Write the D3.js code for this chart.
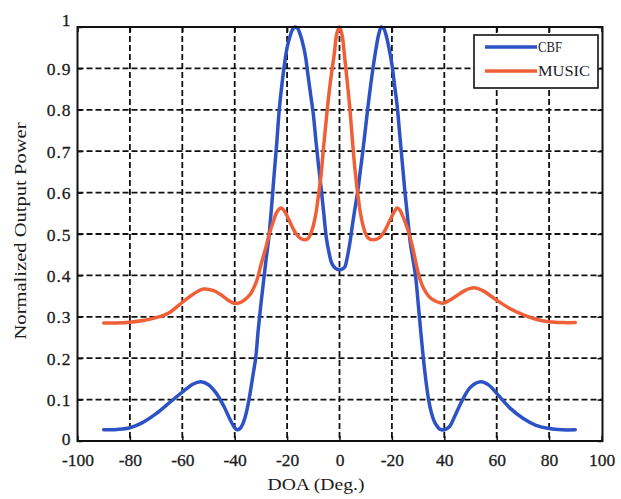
<!DOCTYPE html>
<html>
<head>
<meta charset="utf-8">
<script src="https://cdn.jsdelivr.net/npm/d3@7/dist/d3.min.js"></script>
<style>
  html, body { margin: 0; padding: 0; background: #fff; }
  svg { display: block; }
  text { font-family: "Liberation Serif", "DejaVu Serif", serif; fill: #1c1c1c; }
</style>
</head>
<body>
<svg id="chart" width="621" height="499"></svg>
<script>
// ---- data ----
const cbfDoa = [-90,-85,-80,-75,-70,-65,-60,-56,-53,-50,-47,-44,-42,-40,-39,-38,-37,-36,-35,-34,-33,-32,-31,-30,-29,-28,-27,-26,-25,-24,-23,-22,-21,-20,-19,-18,-17,-16,-15,-14,-13,-12,-11,-10,-9,-8,-7,-6,-5,-4,-3,-2,-1,0,
  1,2,3,4,5,6,7,8,9,10,11,12,13,14,15,16,17,18,19,20,21,22,23,24,25,26,27,28,29,30,31,32,33,34,35,36,37,38,39,40,42,44,47,50,54,57,60,65,70,75,80,85,90];
const cbfPower = [0.027,0.028,0.032,0.045,0.066,0.092,0.118,0.137,0.143,0.136,0.115,0.082,0.055,0.032,0.027,0.03,0.04,0.058,0.085,0.12,0.16,0.2,0.27,0.33,0.385,0.44,0.49,0.56,0.64,0.715,0.8,0.86,0.91,0.95,0.975,0.993,1.0,0.997,0.982,0.96,0.93,0.882,0.836,0.79,0.725,0.665,0.61,0.55,0.49,0.455,0.43,0.42,0.415,0.414,
  0.415,0.42,0.445,0.48,0.525,0.565,0.605,0.655,0.705,0.76,0.815,0.865,0.91,0.95,0.983,1.0,0.995,0.975,0.945,0.91,0.86,0.81,0.74,0.67,0.6,0.54,0.48,0.44,0.4,0.335,0.265,0.2,0.145,0.1,0.07,0.05,0.038,0.03,0.027,0.027,0.035,0.06,0.1,0.13,0.143,0.135,0.115,0.08,0.055,0.038,0.03,0.027,0.027];

const musicDoa = [-90,-85,-80,-75,-70,-65,-60,-55,-52,-48,-45,-42,-40,-38,-36,-34,-32,-31,-30,-28,-26.8,-25,-24,-22.3,-21,-19,-17,-15,-13,-12,-11,-10,-9,-8,-7,-6,-5,-4,-3,-2,-1,0,
  1,2,3,4,5,6,7,8,9,10,11,12.5,15,17,19,21,22,23,24,25,26.6,28,30.3,32,34,36,39.4,42,45,48,51.4,55,60,65,70,75,80,85,90];
const musicPower = [0.285,0.285,0.287,0.291,0.298,0.31,0.335,0.358,0.367,0.363,0.352,0.338,0.332,0.334,0.342,0.355,0.38,0.4,0.425,0.47,0.5,0.535,0.552,0.563,0.555,0.53,0.505,0.49,0.486,0.489,0.5,0.52,0.55,0.595,0.645,0.715,0.78,0.84,0.89,0.935,0.985,1.0,
  0.98,0.925,0.865,0.8,0.72,0.65,0.595,0.55,0.52,0.5,0.49,0.486,0.49,0.505,0.53,0.555,0.563,0.558,0.545,0.53,0.5,0.465,0.4,0.37,0.35,0.34,0.333,0.34,0.352,0.364,0.37,0.362,0.34,0.32,0.305,0.294,0.288,0.286,0.286];

const xTickValues = [-100,-80,-60,-40,-20,0,20,40,60,80,100];
const xTickLabels = ["-100","-80","-60","-40","-20","0","-20","40","60","80","100"];
const yTickValues = [0,0.1,0.2,0.3,0.4,0.5,0.6,0.7,0.8,0.9,1];
const yTickLabels = ["0","0.1","0.2","0.3","0.4","0.5","0.6","0.7","0.8","0.9","1"];
const seriesNames = ["CBF","MUSIC"];
const seriesColors = ["#2c52c6","#ef6039"];

// ---- drawing ----
const svg = d3.select("#chart");
const L = 77.5, R = 601.5, T = 27, B = 441;
const x = d3.scaleLinear().domain([-100,100]).range([L,R]);
const y = d3.scaleLinear().domain([0,1]).range([B,T]);

// grid
const grid = svg.append("g").attr("stroke","#111").attr("stroke-width",1.8).attr("stroke-dasharray","6,3");
grid.selectAll("line.vx").data(xTickValues.slice(1,-1)).enter().append("line")
  .attr("x1",d=>x(d)).attr("x2",d=>x(d)).attr("y1",T).attr("y2",B);
grid.selectAll("line.hy").data(yTickValues.slice(1,-1)).enter().append("line")
  .attr("y1",d=>y(d)).attr("y2",d=>y(d)).attr("x1",L).attr("x2",R+1);

// axes with inward ticks
const xAxis = d3.axisBottom(x).tickValues(xTickValues).tickSizeInner(-5).tickSizeOuter(0)
  .tickFormat((d,i)=>xTickLabels[i]);
const gx = svg.append("g").attr("transform",`translate(0,${B})`).call(xAxis);
gx.select(".domain").remove();
gx.selectAll(".tick line").attr("stroke","#111").attr("stroke-width",1.5);
gx.selectAll(".tick text").attr("y",25).attr("dy",0).style("font-size","17.5px").attr("fill","#1c1c1c")
  .attr("stroke","#1c1c1c").attr("stroke-width",0.3);

const yAxis = d3.axisLeft(y).tickValues(yTickValues).tickSizeInner(-5).tickSizeOuter(0)
  .tickFormat((d,i)=>yTickLabels[i]);
const gy = svg.append("g").attr("transform",`translate(${L},0)`).call(yAxis);
gy.select(".domain").remove();
gy.selectAll(".tick line").attr("stroke","#111").attr("stroke-width",1.5);
gy.selectAll(".tick text").attr("x",-6).attr("dy",d=>d===1?"-0.1em":(d===0?"0.2em":"0.35em"))
  .style("font-size","17.5px").style("letter-spacing","1px").attr("fill","#1c1c1c")
  .attr("stroke","#1c1c1c").attr("stroke-width",0.3);

// top/right ticks
const gt = svg.append("g").attr("transform",`translate(0,${T})`).call(d3.axisTop(x).tickValues(xTickValues).tickSizeInner(-5).tickSizeOuter(0).tickFormat(""));
gt.select(".domain").remove();
gt.selectAll(".tick line").attr("stroke","#111").attr("stroke-width",1.5);
const gr = svg.append("g").attr("transform",`translate(${R+1},0)`).call(d3.axisRight(y).tickValues(yTickValues).tickSizeInner(-5).tickSizeOuter(0).tickFormat(""));
gr.select(".domain").remove();
gr.selectAll(".tick line").attr("stroke","#111").attr("stroke-width",1.5);

// curves
const line = d3.line().x(d=>x(d[0])).y(d=>y(d[1])).curve(d3.curveCatmullRom.alpha(0.5));
const series = [d3.zip(cbfDoa,cbfPower), d3.zip(musicDoa,musicPower)];
svg.append("g").selectAll("path").data(series).enter().append("path")
  .attr("d",line).attr("fill","none")
  .attr("stroke",(d,i)=>seriesColors[i]).attr("stroke-width",3.5)
  .attr("stroke-linejoin","round").attr("stroke-linecap","round");

// box
svg.append("rect").attr("x",L).attr("y",T).attr("width",R+1-L).attr("height",B-T)
  .attr("fill","none").attr("stroke","#111").attr("stroke-width",2);

// legend
const lg = svg.append("g");
lg.append("rect").attr("x",474).attr("y",35).attr("width",124).attr("height",53)
  .attr("fill","#fff").attr("stroke","#111").attr("stroke-width",1.6);
const legY = [47,71];
const legLen = [24,52];
seriesNames.forEach((n,i)=>{
  lg.append("line").attr("x1",485).attr("x2",537).attr("y1",legY[i]).attr("y2",legY[i])
    .attr("stroke",seriesColors[i]).attr("stroke-width",3.4);
  lg.append("text").attr("x",538).attr("y",legY[i]+5).style("font-size","15px")
    .attr("textLength",legLen[i]).attr("lengthAdjust","spacingAndGlyphs").text(n);
});

// axis titles
svg.append("text").attr("x",316).attr("y",490).attr("text-anchor","middle")
  .style("font-size","16px").attr("textLength",97).attr("lengthAdjust","spacingAndGlyphs")
  .text("DOA (Deg.)");
svg.append("text").attr("transform","translate(26,231) rotate(-90)").attr("text-anchor","middle")
  .style("font-size","17px").attr("textLength",217).attr("lengthAdjust","spacingAndGlyphs")
  .text("Normalized Output Power");
</script>
</body>
</html>
